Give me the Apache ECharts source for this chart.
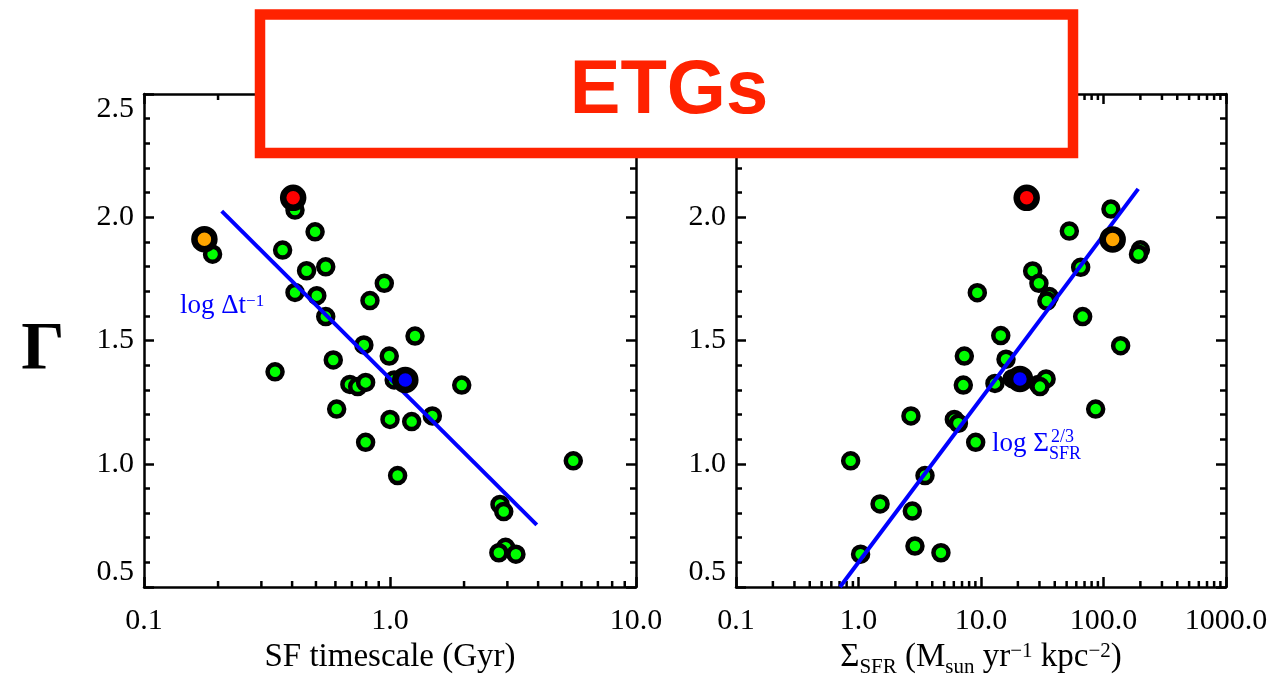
<!DOCTYPE html>
<html lang="en">

<head>
    <meta charset="UTF-8">
    <title>ETGs</title>
    <script src="https://cdn.jsdelivr.net/npm/echarts@6.0.0/dist/echarts.min.js"></script>
    <style>
        html, body {
            margin: 0;
            padding: 0;
            background: #fff;
        }

        #chart {
            width: 1277px;
            height: 677px;
        }
    </style>
</head>

<body>
    <div id="chart"></div>

    <script>
        // left panel: SF timescale (Gyr) vs Gamma
        const timescaleGreen = [
            [0.411, 2.029], [0.190, 1.850], [0.496, 1.941], [0.366, 1.867], [0.458, 1.783],
            [0.548, 1.799], [0.948, 1.732], [0.829, 1.662], [0.411, 1.695], [0.504, 1.682],
            [0.548, 1.597], [1.264, 1.518], [0.783, 1.482], [0.993, 1.437], [0.588, 1.421],
            [0.341, 1.373], [1.040, 1.340], [0.687, 1.322], [0.739, 1.313], [0.796, 1.330],
            [1.957, 1.319], [0.607, 1.222], [1.000, 1.180], [1.225, 1.171], [1.486, 1.194],
            [0.796, 1.087], [1.074, 0.952], [5.560, 1.012], [2.800, 0.835], [2.900, 0.806],
            [2.950, 0.661], [2.770, 0.639], [3.250, 0.633]
        ];
        const timescaleRed = [[0.404, 2.079]];
        const timescaleOrange = [[0.176, 1.911]];
        const timescaleBlue = [[1.154, 1.340]];
        const timescaleFit = [[0.207, 2.025], [3.95, 0.752]];

        // right panel: Sigma_SFR vs Gamma
        const sfrGreen = [
            [115, 2.033], [52.6, 1.944], [200, 1.868], [193, 1.850], [65.1, 1.797],
            [26.4, 1.782], [29.7, 1.732], [36.1, 1.678], [34.5, 1.660], [9.33, 1.694],
            [67.6, 1.597], [14.5, 1.520], [138, 1.479], [7.31, 1.437], [16.0, 1.424],
            [7.17, 1.319], [13.0, 1.326], [18.0, 1.345], [29.4, 1.322], [34.0, 1.344],
            [30.3, 1.313], [2.68, 1.194], [6.06, 1.180], [6.54, 1.164], [86.3, 1.222],
            [9.05, 1.087], [0.863, 1.012], [3.49, 0.952], [1.50, 0.837], [2.75, 0.808],
            [2.89, 0.666], [4.71, 0.639], [1.04, 0.633]
        ];
        const sfrRed = [[23.6, 2.079]];
        const sfrOrange = [[118.8, 1.910]];
        const sfrBlue = [[20.8, 1.344]];
        const sfrFit = [[0.706, 0.5], [192, 2.115]];

        // axis ranges and log minor ticks
        const gammaRange = [0.5, 2.5];
        const timescaleRange = [0.1, 10];
        const sfrRange = [0.1, 1000];
        const timescaleMinor = [0.2, 0.3, 0.4, 0.5, 0.6, 0.7, 0.8, 0.9, 2, 3, 4, 5, 6, 7, 8, 9];
        const sfrMinor = [0.2, 0.3, 0.4, 0.5, 0.6, 0.7, 0.8, 0.9, 2, 3, 4, 5, 6, 7, 8, 9,
            20, 30, 40, 50, 60, 70, 80, 90, 200, 300, 400, 500, 600, 700, 800, 900];

        const SERIF = '"Liberation Serif", "Times New Roman", serif';
        const BLUE = '#0000ff';

        const chart = echarts.init(document.getElementById('chart'));

        const xAxisCfg = (gridIndex, range, position, name, nameStyle) => ({
            type: 'log',
            logBase: 10,
            gridIndex: gridIndex,
            position: position,
            min: range[0],
            max: range[1],
            axisLine: { show: true, lineStyle: { color: '#000', width: 2.5 } },
            axisTick: { show: true, inside: true, length: 10, lineStyle: { color: '#000', width: 2.5 } },
            minorTick: { show: false },
            splitLine: { show: false },
            axisLabel: {
                show: position === 'bottom',
                margin: 19,
                color: '#000',
                fontFamily: SERIF,
                fontSize: 30,
                formatter: v => Number(v).toFixed(1)
            },
            name: name || '',
            nameLocation: 'middle',
            nameGap: 48,
            nameTextStyle: nameStyle || {}
        });

        const yAxisCfg = (gridIndex, position) => ({
            type: 'value',
            gridIndex: gridIndex,
            position: position,
            min: gammaRange[0],
            max: gammaRange[1],
            interval: 0.5,
            axisLine: { show: true, lineStyle: { color: '#000', width: 2.5 } },
            axisTick: { show: true, inside: true, length: 10, lineStyle: { color: '#000', width: 2.5 } },
            minorTick: { show: true, splitNumber: 5, length: 6, lineStyle: { color: '#000', width: 2.5 } },
            splitLine: { show: false },
            minorSplitLine: { show: false },
            axisLabel: {
                show: position === 'left',
                margin: 10,
                color: '#000',
                fontFamily: SERIF,
                fontSize: 30,
                verticalAlignMinLabel: 'bottom',
                verticalAlignMaxLabel: 'top',
                formatter: v => v.toFixed(1)
            }
        });

        // log-axis minor ticks on bottom and top edges
        const minorTickItem = (params, api) => {
            const v = api.value(0);
            const bot = api.coord([v, gammaRange[0]]);
            const top = api.coord([v, gammaRange[1]]);
            const style = { stroke: '#000', lineWidth: 2.5 };
            return {
                type: 'group',
                children: [
                    { type: 'line', shape: { x1: bot[0], y1: bot[1], x2: bot[0], y2: bot[1] - 6 }, style: style },
                    { type: 'line', shape: { x1: top[0], y1: top[1], x2: top[0], y2: top[1] + 6 }, style: style }
                ]
            };
        };

        const greenSeries = (xi, yi, data) => ({
            type: 'scatter',
            xAxisIndex: xi,
            yAxisIndex: yi,
            data: data,
            symbol: 'circle',
            symbolSize: 15,
            itemStyle: { color: '#00ff00', borderColor: '#000', borderWidth: 4.5, opacity: 1 },
            z: 2
        });

        const bigSeries = (xi, yi, data, color) => ({
            type: 'scatter',
            xAxisIndex: xi,
            yAxisIndex: yi,
            data: data,
            symbol: 'circle',
            symbolSize: 20,
            itemStyle: { color: color, borderColor: '#000', borderWidth: 6.5, opacity: 1 },
            z: 4
        });

        const fitSeries = (xi, yi, data) => ({
            type: 'line',
            xAxisIndex: xi,
            yAxisIndex: yi,
            data: data,
            symbol: 'none',
            lineStyle: { color: BLUE, width: 4 },
            z: 3
        });

        const tickSeries = (xi, yi, values) => ({
            type: 'custom',
            xAxisIndex: xi,
            yAxisIndex: yi,
            data: values.map(v => [v, gammaRange[0]]),
            encode: { x: 0, y: 1 },
            renderItem: minorTickItem,
            silent: true,
            clip: false,
            z: 1
        });

        const sfrName = '{m|Σ}{sub|SFR}{m| (M}{sub|sun}{m| yr}{sup|−1}{m| kpc}{sup|−2}{m|)}';

        const option = {
            animation: false,
            backgroundColor: '#fff',
            grid: [
                { left: 144, top: 94, width: 492, height: 493, outerBoundsMode: 'none' },
                { left: 736, top: 94, width: 490, height: 493, outerBoundsMode: 'none' }
            ],
            xAxis: [
                xAxisCfg(0, timescaleRange, 'bottom', 'SF timescale (Gyr)',
                    { color: '#000', fontFamily: SERIF, fontSize: 33 }),
                xAxisCfg(0, timescaleRange, 'top'),
                xAxisCfg(1, sfrRange, 'bottom', sfrName, {
                    color: '#000',
                    fontFamily: SERIF,
                    rich: {
                        m: { fontFamily: SERIF, fontSize: 33, color: '#000', verticalAlign: 'bottom', padding: [0, 0, 6, 0] },
                        sub: { fontFamily: SERIF, fontSize: 21, color: '#000', verticalAlign: 'bottom', padding: [0, 0, 2.3, 0] },
                        sup: { fontFamily: SERIF, fontSize: 21, color: '#000', verticalAlign: 'bottom', padding: [0, 0, 18.3, 0] }
                    }
                }),
                xAxisCfg(1, sfrRange, 'top')
            ],
            yAxis: [
                yAxisCfg(0, 'left'),
                yAxisCfg(0, 'right'),
                yAxisCfg(1, 'left'),
                yAxisCfg(1, 'right')
            ],
            series: [
                tickSeries(0, 0, timescaleMinor),
                greenSeries(0, 0, timescaleGreen),
                fitSeries(0, 0, timescaleFit),
                bigSeries(0, 0, timescaleRed, '#ff0000'),
                bigSeries(0, 0, timescaleOrange, '#ffa500'),
                bigSeries(0, 0, timescaleBlue, '#0000ff'),

                tickSeries(2, 2, sfrMinor),
                greenSeries(2, 2, sfrGreen),
                fitSeries(2, 2, sfrFit),
                bigSeries(2, 2, sfrRed, '#ff0000'),
                bigSeries(2, 2, sfrOrange, '#ffa500'),
                bigSeries(2, 2, sfrBlue, '#0000ff')
            ],
            graphic: [
                {
                    type: 'text',
                    x: 43,
                    y: 350,
                    z: 100,
                    style: {
                        text: 'Γ',
                        fill: '#000',
                        font: 'bold 68px ' + SERIF,
                        align: 'center',
                        verticalAlign: 'middle'
                    }
                },
                {
                    type: 'text',
                    x: 180,
                    y: 319,
                    z: 100,
                    style: {
                        text: '{m|log Δt}{sup|−1}',
                        align: 'left',
                        verticalAlign: 'bottom',
                        rich: {
                            m: { fill: BLUE, fontFamily: SERIF, fontSize: 27, verticalAlign: 'bottom' },
                            sup: { fill: BLUE, fontFamily: SERIF, fontSize: 17, verticalAlign: 'bottom', padding: [0, 0, 9, 0] }
                        }
                    }
                },
                {
                    type: 'text',
                    x: 992,
                    y: 463,
                    z: 100,
                    style: {
                        text: '{m|log Σ}{sub|SFR}',
                        align: 'left',
                        verticalAlign: 'bottom',
                        rich: {
                            m: { fill: BLUE, fontFamily: SERIF, fontSize: 27, verticalAlign: 'bottom', padding: [0, 0, 6, 0] },
                            sub: { fill: BLUE, fontFamily: SERIF, fontSize: 18, verticalAlign: 'bottom' }
                        }
                    }
                },
                {
                    type: 'text',
                    x: 1051,
                    y: 446.5,
                    z: 100,
                    style: {
                        text: '2/3',
                        fill: BLUE,
                        font: '18px ' + SERIF,
                        align: 'left',
                        verticalAlign: 'bottom'
                    }
                },
                {
                    type: 'rect',
                    z: 100,
                    shape: { x: 260, y: 14.6, width: 813, height: 138.5 },
                    style: { fill: '#fff', stroke: '#ff2200', lineWidth: 10.5 }
                },
                {
                    type: 'text',
                    x: 669,
                    y: 92,
                    z: 101,
                    style: {
                        text: 'ETGs',
                        fill: '#ff2200',
                        font: 'bold 76px "Liberation Sans", Arial, sans-serif',
                        align: 'center',
                        verticalAlign: 'middle'
                    }
                }
            ]
        };

        chart.setOption(option);
    </script>
</body>

</html>
